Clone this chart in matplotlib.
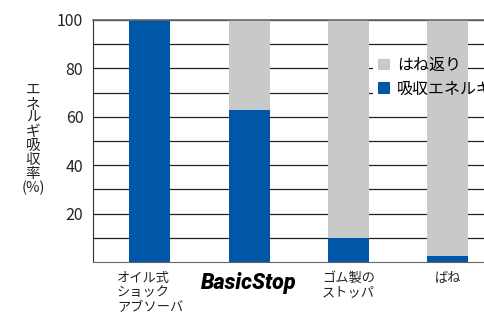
import matplotlib
matplotlib.use('Agg')
import matplotlib.pyplot as plt
from matplotlib.patches import Rectangle, Patch

plt.rcParams['font.family'] = ['Noto Sans CJK JP', 'DejaVu Sans']

# データ
categories = ['オイル式\nショック\nアブソーバ', 'BasicStop', 'ゴム製の\nストッパ', 'ばね']
absorbed = [100, 63, 10, 2.5]          # 吸収エネルギ (%)
rebound = [100 - v for v in absorbed]  # はね返り (%)
yticks = [10, 20, 30, 40, 50, 60, 70, 80, 90, 100]
ylabels = ['', '20', '', '40', '', '60', '', '80', '', '100']

blue = '#0057a8'
gray = '#c8c9c9'

fig = plt.figure(figsize=(4.85, 3.2), dpi=100)
ax = fig.add_axes([93 / 485, 58 / 320, 392 / 485, 242 / 320])

x = list(range(len(categories)))
ax.bar(x, absorbed, width=0.413, color=blue, zorder=2)
ax.bar(x, rebound, bottom=absorbed, width=0.413, color=gray, zorder=2)

ax.set_xlim(-0.574, 3.374)
ax.set_ylim(0, 100)
ax.set_yticks(yticks)
ax.set_yticklabels(ylabels, fontsize=11.5, color='#222222')
ax.tick_params(axis='y', length=0, pad=7)
ax.set_axisbelow(True)
ax.yaxis.grid(True, color='#222222', linewidth=0.9)
ax.set_xticks([])

ax.spines['right'].set_visible(False)
ax.spines['top'].set_color('#666666')
ax.spines['top'].set_linewidth(1.2)
ax.spines['left'].set_color('#333333')
ax.spines['bottom'].set_color('#666666')

# x 軸ラベル
for i, c in enumerate(categories):
    if c == 'BasicStop':
        ax.text(i, -4.3, c, ha='center', va='top', fontsize=15.5,
                family='Roboto', weight=900, style='italic', color='black',
                clip_on=False)
    else:
        ax.text(i, -4.0, c, ha='center', va='top', fontsize=9.5,
                multialignment='left', linespacing=1.15, color='#222222',
                clip_on=False)

# 縦書きの軸ラベル
fig.text(33 / 485, 1 - 139 / 320, '\n'.join('エネルギ吸収率') + '\n(%)',
         ha='center', va='center', fontsize=10.5, linespacing=1.0,
         color='#222222')

handles = [Patch(facecolor=gray, edgecolor='none'),
           Patch(facecolor=blue, edgecolor='none')]
leg = ax.legend(handles, ['はね返り', '吸収エネルギ'], loc='upper left',
                bbox_to_anchor=(378 / 485, 1 - 57 / 320),
                bbox_transform=fig.transFigure, frameon=False,
                fontsize=11.5, handlelength=0.75, handleheight=0.75,
                handletextpad=0.45, labelspacing=0.4, borderpad=0,
                borderaxespad=0)
leg.set_zorder(5)

# 凡例の背後だけグリッド線を消す (棒の下)
fig.canvas.draw()
r = fig.canvas.get_renderer()
inv = fig.transFigure.inverted()
for h, t in zip(leg.legend_handles, leg.get_texts()):
    b1 = h.get_window_extent(r)
    b2 = t.get_window_extent(r)
    (fx0, fy0), (fx1, fy1) = inv.transform([
        (b1.x0 - 5, min(b1.y0, b2.y0) - 1),
        (b2.x1 + 2, max(b1.y1, b2.y1) + 1)])
    ax.add_patch(Rectangle((fx0, fy0), fx1 - fx0, fy1 - fy0,
                           transform=fig.transFigure, facecolor='white',
                           edgecolor='none', zorder=1, clip_on=False))

fig.savefig('out.png', dpi=100)
